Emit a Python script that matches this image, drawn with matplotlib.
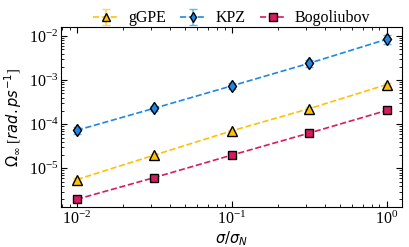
import numpy as np
import matplotlib
matplotlib.use("Agg")
import matplotlib.pyplot as plt

plt.rcParams['font.family'] = 'serif'
plt.rcParams['font.serif'] = ['Liberation Serif', 'DejaVu Serif']
plt.rcParams['mathtext.fontset'] = 'dejavusans'
plt.rcParams['font.size'] = 10.5

sigma = [0.01, 0.0316, 0.1, 0.316, 1.0]

ggpe = [5.6e-6, 2.0e-5, 7.1e-5, 2.25e-4, 7.9e-4]
ggpe_err = [0.4e-6, 1.5e-6, 5e-6, 1.5e-5, 5e-5]

kpz = [7.3e-5, 2.3e-4, 7.4e-4, 2.4e-3, 8.4e-3]
kpz_err = [1.2e-5, 3.5e-5, 1.1e-4, 4e-4, 1.9e-3]

bogo = [2.0e-6, 6.2e-6, 2.0e-5, 6.3e-5, 2.05e-4]

series = [
    ("gGPE", ggpe, ggpe_err, "^", "#FFC107", "#FFD54F", 6.5),
    ("KPZ", kpz, kpz_err, "d", "#1E88E5", "#64B5F6", 6.5),
    ("Bogoliubov", bogo, None, "s", "#D81B60", "#F06292", 6),
]

fig, ax = plt.subplots(figsize=(4.09, 2.47), dpi=100)

for name, vals, err, mk, col, ecol, ms in series:
    ax.errorbar(sigma, vals, yerr=err, fmt=mk, ls="--", color=col,
                mfc=col, mec="black", ms=ms, capsize=3, lw=1.2,
                ecolor=ecol, elinewidth=1.2, label=name)

ax.set_xscale("log")
ax.set_yscale("log")
ax.set_xlabel(r"$\sigma/\sigma_N$", labelpad=1)
ax.set_ylabel(r"$\Omega_\infty$ [$rad.ps^{-1}$]", labelpad=3)
ax.tick_params(which="both", direction="in", top=True, right=True, pad=2,
               labelsize=11.5)
ax.tick_params(which="major", length=4)
ax.tick_params(which="minor", length=2)

ax.legend(ncol=3, frameon=False, loc="lower center", fontsize=11.5,
          bbox_to_anchor=(0.5, 0.97), handlelength=1.6,
          columnspacing=0.9, handletextpad=0.6, borderaxespad=0,
          markerscale=0.85)

fig.subplots_adjust(left=0.15, right=0.983, top=0.89, bottom=0.16)
fig.savefig("out.png")
